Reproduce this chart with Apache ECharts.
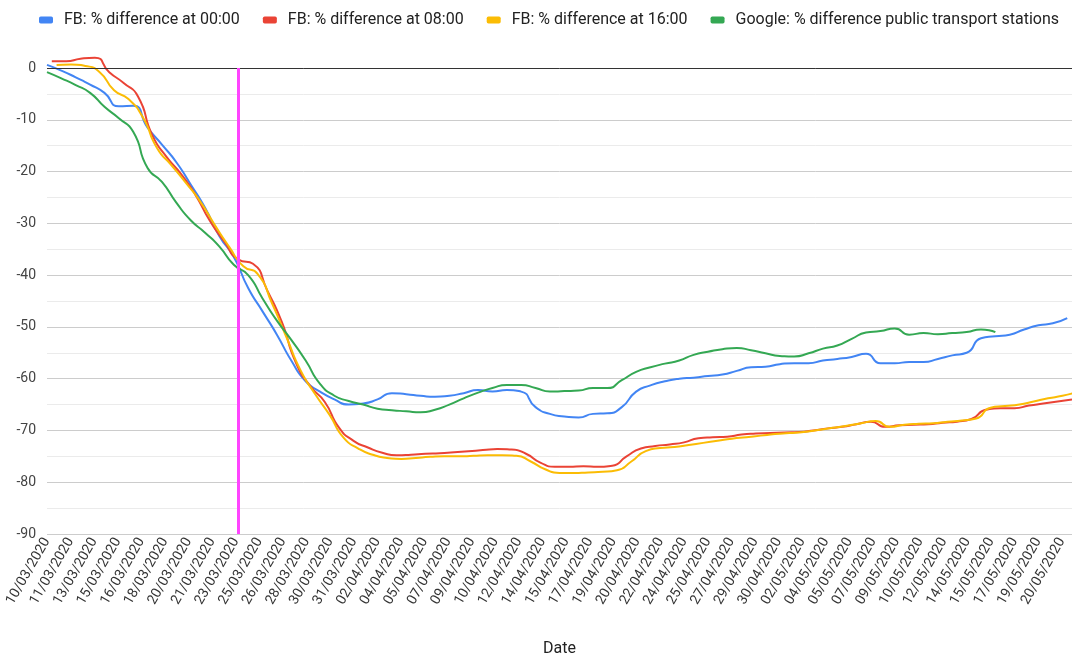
<!DOCTYPE html>
<html>
<head>
<meta charset="utf-8">
<script src="https://cdn.jsdelivr.net/npm/echarts@6/dist/echarts.min.js"></script>
<style>
html,body{margin:0;padding:0;background:#fff;}
#chart{width:1072px;height:659px;}
</style>
</head>
<body>
<div id="chart"></div>
<script>
// Daily categories (day index 0 = 10/03/2020)
const DATES = [
 '10/03/2020','11/03/2020','12/03/2020','13/03/2020','14/03/2020','15/03/2020','16/03/2020','17/03/2020','18/03/2020','19/03/2020',
 '20/03/2020','21/03/2020','22/03/2020','23/03/2020','24/03/2020','25/03/2020','26/03/2020','27/03/2020','28/03/2020','29/03/2020',
 '30/03/2020','31/03/2020','01/04/2020','02/04/2020','03/04/2020','04/04/2020','05/04/2020','06/04/2020','07/04/2020','08/04/2020',
 '09/04/2020','10/04/2020','11/04/2020','12/04/2020','13/04/2020','14/04/2020','15/04/2020','16/04/2020','17/04/2020','18/04/2020',
 '19/04/2020','20/04/2020','21/04/2020','22/04/2020','23/04/2020','24/04/2020','25/04/2020','26/04/2020','27/04/2020','28/04/2020',
 '29/04/2020','30/04/2020','01/05/2020','02/05/2020','03/05/2020','04/05/2020','05/05/2020','06/05/2020','07/05/2020','08/05/2020',
 '09/05/2020','10/05/2020','11/05/2020','12/05/2020','13/05/2020','14/05/2020','15/05/2020','16/05/2020','17/05/2020','18/05/2020',
 '19/05/2020','20/05/2020'
];

// Tick labels shown along the x axis
const TICK_LABELS = [
 '10/03/2020','11/03/2020','13/03/2020','15/03/2020','16/03/2020','18/03/2020','20/03/2020','21/03/2020','23/03/2020','25/03/2020',
 '26/03/2020','28/03/2020','30/03/2020','31/03/2020','02/04/2020','04/04/2020','05/04/2020','07/04/2020','09/04/2020','10/04/2020',
 '12/04/2020','14/04/2020','15/04/2020','17/04/2020','19/04/2020','20/04/2020','22/04/2020','24/04/2020','25/04/2020','27/04/2020',
 '29/04/2020','30/04/2020','02/05/2020','04/05/2020','05/05/2020','07/05/2020','09/05/2020','10/05/2020','12/05/2020','14/05/2020',
 '15/05/2020','17/05/2020','19/05/2020','20/05/2020'
];

const SERIES_NAMES = [
 'FB: % difference at 00:00',
 'FB: % difference at 08:00',
 'FB: % difference at 16:00',
 'Google: % difference public transport stations'
];

const FB_0000 = [
 0.6,-0.5,-1.8,-3.2,-4.8,-7.4,-7.3,-11.5,-14.8,-18.2,
 -22.5,-27,-32.5,-36.5,-42.5,-47,-51.5,-56.5,-60.5,-62.5,
 -64,-65,-64.8,-64,-62.8,-63,-63.3,-63.5,-63.3,-62.8,
 -62.2,-62.5,-62.2,-62.5,-65.5,-66.8,-67.3,-67.5,-66.8,-66.7,
 -65.5,-62.5,-61.3,-60.5,-60,-59.8,-59.5,-59.2,-58.5,-57.8,
 -57.7,-57.2,-57,-57,-56.5,-56.2,-55.8,-55.2,-57,-57,
 -56.8,-56.8,-56.2,-55.5,-55,-52.2,-51.8,-51.5,-50.5,-49.7,
 -49.3,-48.3
];

const FB_0800 = [
 1.3,1.3,1.8,2.0,-0.8,-2.9,-5.5,-13,-17.2,-20.5,
 -24.5,-29.5,-33.5,-37,-37.8,-43,-49,-57,-61.5,-64.5,
 -69.5,-72,-73.3,-74.3,-74.8,-74.7,-74.5,-74.4,-74.2,-74,
 -73.8,-73.6,-73.7,-74.5,-76.2,-77,-77,-76.9,-77,-76.8,
 -75,-73.5,-73,-72.7,-72.3,-71.5,-71.3,-71.2,-70.8,-70.6,
 -70.5,-70.4,-70.3,-70,-69.6,-69.3,-68.8,-68.3,-69.3,-69,
 -68.9,-68.8,-68.5,-68.3,-67.8,-66,-65.7,-65.7,-65.2,-64.8,
 -64.4,-64
];

const FB_1600 = [
 0.6,0.7,0.4,-0.8,-4.3,-6.0,-9.5,-15.5,-18.8,-22.2,
 -25.8,-30.3,-34.5,-38.3,-39.8,-45.5,-52,-58.5,-63,-67,
 -71.5,-73.5,-74.7,-75.3,-75.5,-75.3,-75.1,-75,-75,-74.9,
 -74.8,-74.8,-74.9,-76,-77.5,-78.2,-78.2,-78.1,-78,-77.7,
 -76,-74,-73.4,-73.2,-72.8,-72.4,-72,-71.6,-71.3,-71,
 -70.7,-70.5,-70.3,-69.9,-69.5,-69.1,-68.6,-68.2,-69.3,-68.9,
 -68.7,-68.6,-68.3,-68.1,-67.7,-65.6,-65.3,-65,-64.4,-63.8,
 -63.3,-62.6
];

const GOOGLE_TRANSIT = [
 -0.8,-2.0,-3.3,-4.8,-7.5,-9.7,-12.3,-19.3,-22,-26,
 -29.4,-31.8,-34.5,-38,-40,-44.5,-48.8,-52.5,-56.5,-61,
 -63.3,-64.3,-65,-65.8,-66.1,-66.3,-66.5,-66,-65,-63.8,
 -62.7,-61.8,-61.2,-61.2,-61.8,-62.5,-62.4,-62.3,-61.8,-61.8,
 -60.3,-58.7,-57.8,-57.1,-56.5,-55.4,-54.8,-54.3,-54.1,-54.5,
 -55.1,-55.6,-55.7,-55.1,-54.2,-53.6,-52.3,-51.1,-50.8,-50.3,
 -51.5,-51.2,-51.4,-51.2,-51,-50.5,-51
];

// Time of day offsets (fraction of a day) for each series
const OFFSETS = [0, 1/3, 2/3, 0];
const LOCKDOWN_DAY = 13 + 1/3; // 23/03/2020 08:00
const COLORS = ['#4285f4', '#ea4335', '#fbbc04', '#34a853'];

function toPoints(values, offset) {
  return values.map((v, i) => [i + offset, v]);
}

const chart = echarts.init(document.getElementById('chart'));
const allValues = [FB_0000, FB_0800, FB_1600, GOOGLE_TRANSIT];
const series = allValues.map((vals, k) => ({
  name: SERIES_NAMES[k],
  type: 'line',
  xAxisIndex: 0,
  data: toPoints(vals, OFFSETS[k]),
  smooth: 0.6,
  showSymbol: false,
  symbol: 'none',
  clip: false,
  lineStyle: { color: COLORS[k], width: 2 },
  itemStyle: { color: COLORS[k] },
  z: 3
}));

series[0].markLine = {
  silent: true,
  symbol: ['none', 'none'],
  label: { show: false },
  animation: false,
  data: [
    { yAxis: 0, lineStyle: { color: '#333333', width: 1, type: 'solid' } },
    { xAxis: LOCKDOWN_DAY, lineStyle: { color: '#ff44ff', width: 3, type: 'solid' } }
  ]
};

const option = {
  animation: false,
  backgroundColor: '#ffffff',
  textStyle: { fontFamily: 'Roboto' },
  legend: {
    data: SERIES_NAMES,
    left: 34,
    top: 7,
    icon: 'roundRect',
    itemWidth: 14,
    itemHeight: 7,
    itemGap: 23,
    textStyle: { fontFamily: 'Roboto', fontSize: 16, color: '#222', padding: [0, 0, 0, 6] }
  },
  grid: { left: 47, right: 0, top: 68, bottom: 125, containLabel: false, outerBoundsMode: 'none' },
  xAxis: [
    {
      type: 'value', min: 0, max: 214 / 3,
      axisLine: { show: false }, axisTick: { show: false },
      axisLabel: { show: false }, splitLine: { show: false }
    },
    {
      type: 'value', min: 0, max: 43.43, interval: 1, position: 'bottom',
      axisLine: { show: false }, axisTick: { show: false }, splitLine: { show: false },
      axisLabel: {
        rotate: 60, margin: 5, fontSize: 14, color: '#333', fontFamily: 'Roboto',
        formatter: function (v) {
          const r = Math.round(v);
          if (Math.abs(v - r) > 1e-6) return '';
          return TICK_LABELS[r] || '';
        }
      },
      name: 'Date', nameLocation: 'middle', nameGap: 107,
      nameTextStyle: { fontSize: 16, color: '#222', fontFamily: 'Roboto' }
    }
  ],
  yAxis: {
    type: 'value', min: -90, max: 0, interval: 10,
    axisLine: { show: false }, axisTick: { show: false },
    axisLabel: { fontSize: 14, color: '#444', margin: 11, fontFamily: 'Roboto' },
    splitLine: { show: true, lineStyle: { color: '#cccccc', width: 1 } },
    minorTick: { show: false, splitNumber: 2 },
    minorSplitLine: { show: true, lineStyle: { color: '#ebebeb', width: 1 } }
  },
  series: series
};
chart.setOption(option);
</script>
</body>
</html>
